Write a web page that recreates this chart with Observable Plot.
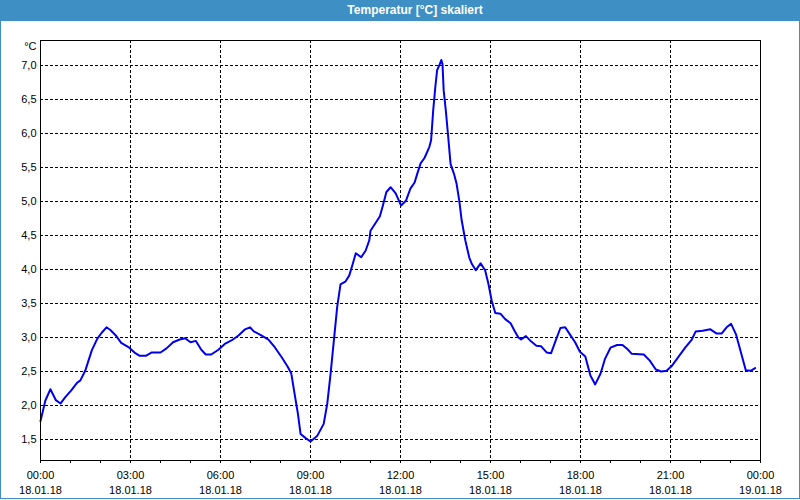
<!DOCTYPE html>
<html><head><meta charset="utf-8">
<script src="https://cdn.jsdelivr.net/npm/d3@7"></script>
<script src="https://cdn.jsdelivr.net/npm/@observablehq/plot@0.6"></script>
<style>
body{margin:0;background:#fff;}
#wrap{position:relative;width:800px;height:500px;overflow:hidden;background:#fff;font-family:"Liberation Sans",Arial,sans-serif;}
#title{height:21px;background:#3d8fc4;color:#fff;font-weight:bold;font-size:12px;line-height:21px;text-align:center;padding-left:30px;box-sizing:border-box;}
#border{position:absolute;left:0;top:0;width:800px;height:499px;border:1px solid #3d8fc4;border-top:none;box-sizing:border-box;pointer-events:none;}
#chart svg{display:block}
</style></head><body>
<div id="wrap"><div id="title">Temperatur [°C] skaliert</div><div id="chart"></div><div id="border"></div></div>
<script>
const hours = [0.00,0.16,0.33,0.51,0.67,0.82,1.04,1.21,1.33,1.49,1.71,1.89,2.04,2.20,2.33,2.51,2.69,2.96,3.16,3.31,3.51,3.71,4.00,4.20,4.42,4.64,4.82,5.00,5.18,5.36,5.51,5.69,5.93,6.16,6.38,6.60,6.82,6.98,7.11,7.33,7.60,7.82,8.04,8.24,8.36,8.47,8.58,8.67,8.84,9.00,9.22,9.44,9.56,9.67,9.78,9.89,10.00,10.16,10.29,10.40,10.51,10.69,10.84,10.96,11.00,11.31,11.40,11.53,11.67,11.84,12.02,12.18,12.33,12.47,12.56,12.67,12.80,12.96,13.02,13.09,13.16,13.22,13.31,13.36,13.40,13.44,13.51,13.58,13.67,13.78,13.87,13.96,14.04,14.16,14.29,14.38,14.51,14.67,14.82,14.93,15.04,15.16,15.33,15.49,15.67,15.80,15.93,16.02,16.18,16.36,16.53,16.69,16.87,17.02,17.16,17.33,17.49,17.64,17.82,17.98,18.16,18.33,18.49,18.67,18.82,19.00,19.22,19.40,19.56,19.71,20.11,20.31,20.51,20.69,20.87,21.04,21.27,21.49,21.71,21.84,22.07,22.33,22.53,22.71,22.87,23.02,23.18,23.33,23.51,23.67,23.82];
const temps = [1.77,2.07,2.24,2.08,2.03,2.12,2.23,2.33,2.37,2.51,2.81,2.98,3.07,3.15,3.11,3.03,2.92,2.85,2.77,2.73,2.73,2.78,2.78,2.84,2.93,2.97,2.99,2.93,2.95,2.82,2.75,2.75,2.82,2.91,2.96,3.03,3.12,3.15,3.09,3.04,2.97,2.85,2.71,2.57,2.47,2.17,1.88,1.58,1.52,1.47,1.55,1.73,2.03,2.47,2.96,3.45,3.78,3.82,3.91,4.07,4.24,4.18,4.28,4.43,4.57,4.78,4.92,5.14,5.21,5.12,4.94,5.01,5.19,5.28,5.41,5.56,5.64,5.80,5.90,6.34,6.68,6.93,7.02,7.08,7.02,6.63,6.34,6.00,5.55,5.41,5.26,5.01,4.72,4.43,4.18,4.08,3.99,4.09,3.99,3.79,3.54,3.36,3.35,3.27,3.21,3.10,3.00,2.97,3.02,2.94,2.88,2.87,2.78,2.77,2.94,3.14,3.15,3.05,2.93,2.79,2.72,2.44,2.31,2.47,2.69,2.85,2.89,2.89,2.83,2.76,2.75,2.66,2.53,2.50,2.51,2.58,2.72,2.85,2.97,3.09,3.10,3.12,3.06,3.06,3.15,3.20,3.05,2.81,2.52,2.51,2.55];
const labelHours = [0,3,6,9,12,15,18,21,24];
const timeLabels = ["00:00","03:00","06:00","09:00","12:00","15:00","18:00","21:00","00:00"];
const dateLabels = ["18.01.18","18.01.18","18.01.18","18.01.18","18.01.18","18.01.18","18.01.18","18.01.18","19.01.18"];
const gridHours = [3,6,9,12,15,18,21];
const yValues = [1.5,2.0,2.5,3.0,3.5,4.0,4.5,5.0,5.5,6.0,6.5,7.0];
const yLabels = ["1,5","2,0","2,5","3,0","3,5","4,0","4,5","5,0","5,5","6,0","6,5","7,0"];
const unitLabel = "°C";

const data = hours.map((h, i) => ({h, t: temps[i]}));
const dash = "3,2";
const chart = Plot.plot({
  width: 800, height: 479,
  marginTop: 19, marginBottom: 40, marginLeft: 40, marginRight: 40,
  x: {domain: [0, 24], axis: null},
  y: {domain: [1.1912, 7.3676], axis: null},
  style: {fontFamily: '"Liberation Sans", Arial, sans-serif', fontSize: "11px", background: "transparent", color: "black"},
  marks: [
    Plot.ruleY(yValues, {stroke: "black", strokeDasharray: dash, strokeWidth: 1, strokeOpacity: 1}),
    Plot.ruleX(gridHours, {stroke: "black", strokeDasharray: dash, strokeWidth: 1, strokeOpacity: 1}),
    Plot.line(data, {x: "h", y: "t", stroke: "#0000ee", strokeWidth: 2}),
    Plot.frame({stroke: "black", strokeWidth: 1}),
    Plot.axisX({ticks: d3.range(0, 25), tickSize: 3, tickFormat: () => "", stroke: "black", label: null}),
    Plot.text(labelHours, {x: d => d, text: (d, i) => timeLabels[i], frameAnchor: "bottom", dy: 15, lineAnchor: "middle", fill: "black"}),
    Plot.text(labelHours, {x: d => d, text: (d, i) => dateLabels[i], frameAnchor: "bottom", dy: 30, lineAnchor: "middle", fill: "black"}),
    Plot.axisY({ticks: yValues, tickSize: 0, tickPadding: 4, tickFormat: (d) => yLabels[yValues.indexOf(d)], fill: "black", label: null}),
    Plot.text([unitLabel], {frameAnchor: "top-left", dx: -4, dy: 6, textAnchor: "end", lineAnchor: "middle", fill: "black"})
  ]
});
document.getElementById("chart").appendChild(chart);
</script>
</body></html>
